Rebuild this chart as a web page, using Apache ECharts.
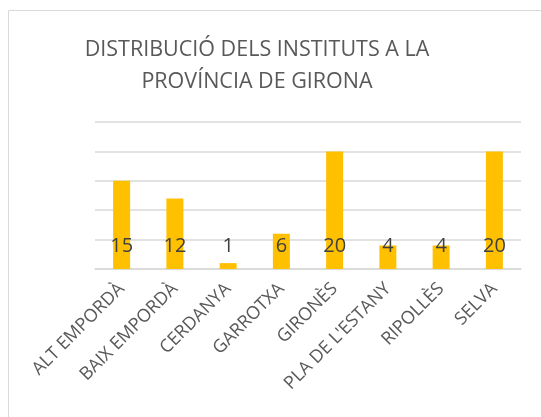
<!DOCTYPE html>
<html>
<head>
<meta charset="utf-8">
<script src="https://cdn.jsdelivr.net/npm/echarts@6/dist/echarts.min.js"></script>
<style>
    * { margin: 0; padding: 0; }
    body { background: #fff; }
    #chart { width: 541px; height: 417px; }
</style>
</head>
<body>
<div id="chart"></div>
<script>
    // dades
    var titleText = 'DISTRIBUCIÓ DELS INSTITUTS A LA\nPROVÍNCIA DE GIRONA';
    var comarques = ['ALT EMPORDÀ', 'BAIX EMPORDÀ', 'CERDANYA', 'GARROTXA', 'GIRONÈS', "PLA DE L'ESTANY", 'RIPOLLÈS', 'SELVA'];
    var instituts = [15, 12, 1, 6, 20, 4, 4, 20];
    var yMax = 25;
    var yStep = 5;

    var font = '"Open Sans", "Liberation Sans", sans-serif';

    var option = {
        animation: false,
        title: {
            text: titleText,
            left: 252,
            top: 29,
            textAlign: 'center',
            textStyle: {
                fontFamily: font,
                fontSize: 21.5,
                fontWeight: 'normal',
                color: '#595959',
                lineHeight: 32,
                align: 'center'
            }
        },
        // marc del gràfic
        graphic: [{
            type: 'rect',
            shape: { x: 8.5, y: 10.5, width: 700, height: 700 },
            style: { fill: 'none', stroke: '#d9d9d9', lineWidth: 1 },
            silent: true
        }],
        grid: {
            left: 95,
            right: 20,
            top: 122,
            bottom: 148
        },
        xAxis: {
            type: 'category',
            data: comarques,
            axisLine: { lineStyle: { color: '#d9d9d9', width: 1.5 } },
            axisTick: { show: false },
            axisLabel: {
                interval: 0,
                rotate: 45,
                margin: 17,
                padding: [20, 0, 0, 0],
                fontFamily: font,
                fontSize: 18,
                color: '#595959'
            }
        },
        yAxis: {
            type: 'value',
            min: 0,
            max: yMax,
            interval: yStep,
            axisLine: { show: false },
            axisTick: { show: false },
            axisLabel: { show: false },
            splitLine: { lineStyle: { color: '#d9d9d9', width: 1.5 } }
        },
        series: [{
            type: 'bar',
            data: instituts,
            barWidth: 17,
            itemStyle: { color: '#ffc000' },
            label: {
                show: true,
                position: 'insideBottom',
                distance: 13,
                fontFamily: font,
                fontSize: 20,
                color: '#404040'
            }
        }]
    };

    var myChart = echarts.init(document.getElementById('chart'));
    myChart.setOption(option);
</script>
</body>
</html>
